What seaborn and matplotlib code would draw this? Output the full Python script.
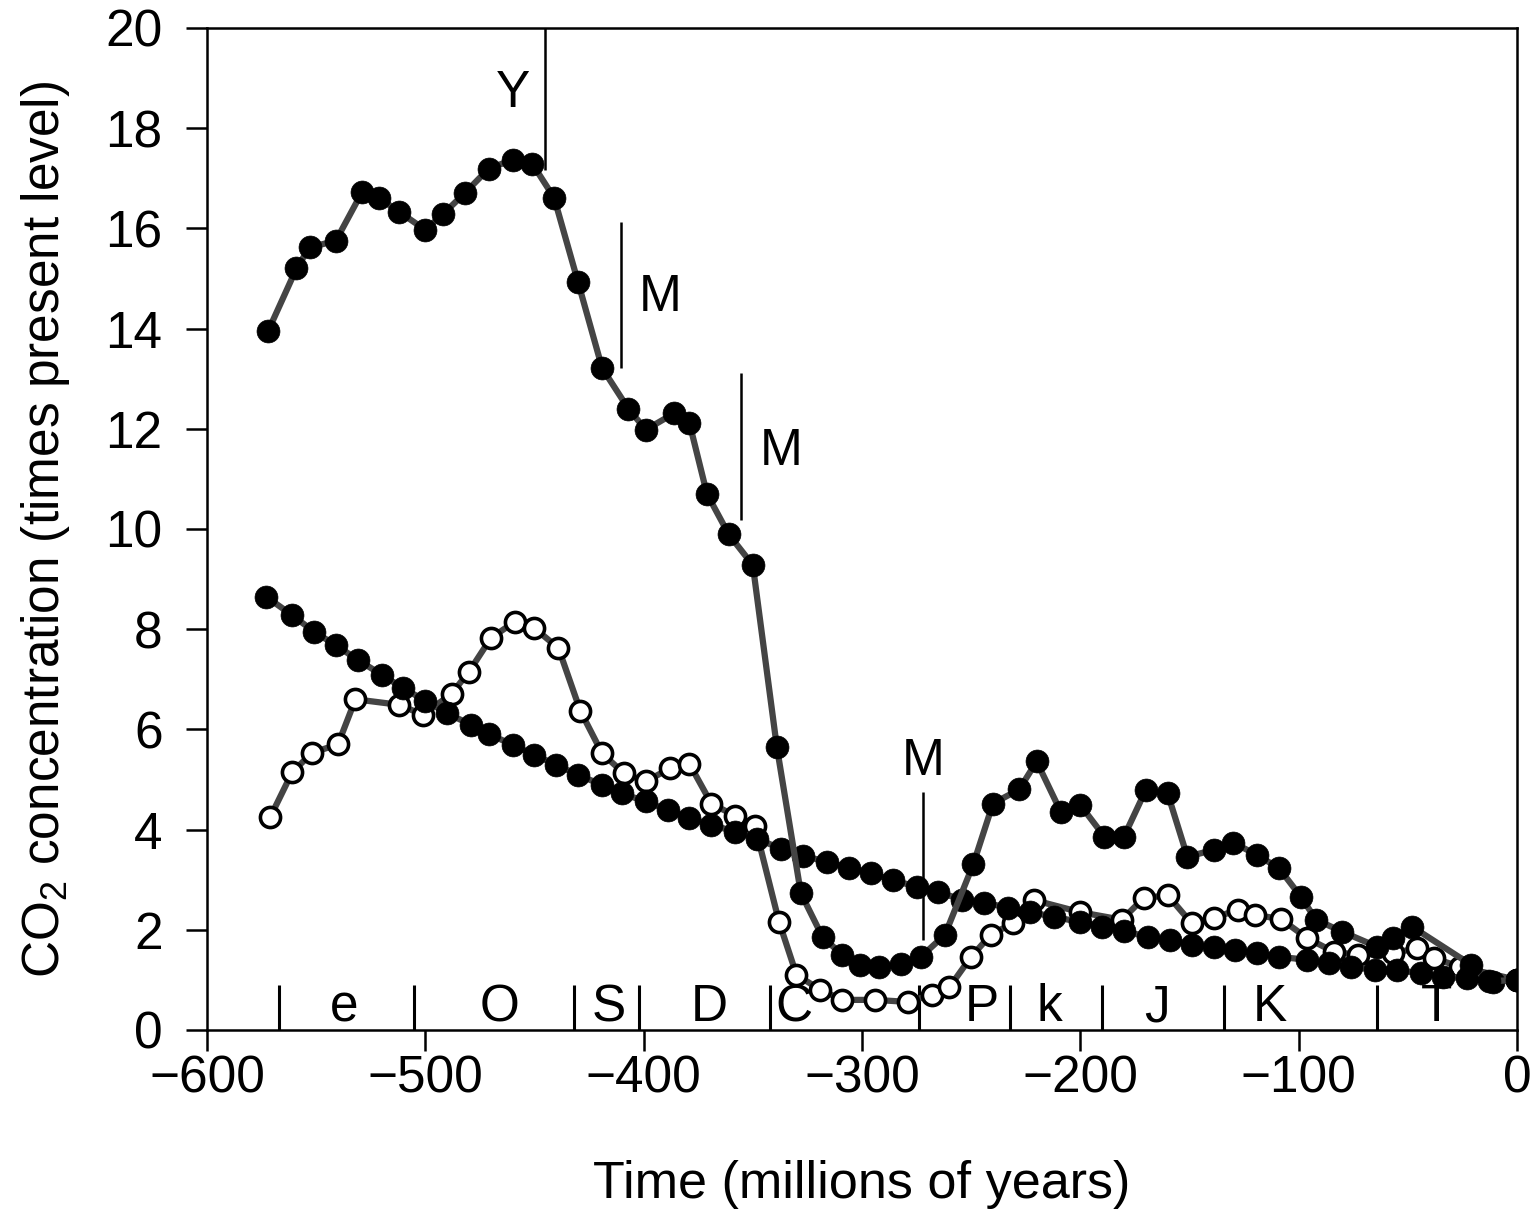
import numpy as np
import pandas as pd
import seaborn as sns
import matplotlib.pyplot as plt

# upper curve (filled circles)
upper_time = [-572, -559, -553, -541, -529, -521, -512, -500, -492, -482, -471, -460, -451, -441,
              -430, -419, -407, -399, -386, -379, -371, -361, -350, -339, -328, -318, -309, -301,
              -292, -282, -273, -262, -249, -240, -228, -220, -209, -200, -189, -180, -170, -160,
              -151, -139, -130, -119, -109, -99, -92, -80, -64, -57, -48, -21, -13, 0]
upper_co2 = [13.95, 15.20, 15.62, 15.75, 16.72, 16.60, 16.33, 15.97, 16.28, 16.70, 17.19, 17.37, 17.29, 16.61,
             14.92, 13.21, 12.40, 11.98, 12.31, 12.11, 10.70, 9.89, 9.28, 5.65, 2.73, 1.85, 1.50, 1.30,
             1.26, 1.32, 1.46, 1.90, 3.31, 4.52, 4.80, 5.36, 4.36, 4.49, 3.86, 3.86, 4.79, 4.72,
             3.46, 3.59, 3.74, 3.49, 3.23, 2.66, 2.20, 1.96, 1.66, 1.83, 2.06, 1.30, 0.97, 1.0]

# smooth declining curve (filled circles)
mid_time = [-573, -561, -551, -541, -531, -520, -510, -500, -490, -479, -471, -460, -450, -440,
            -430, -419, -410, -399, -389, -379, -369, -358, -348, -337, -327, -316, -306, -296,
            -286, -275, -265, -254, -244, -233, -223, -212, -200, -190, -180, -169, -159, -149,
            -139, -129, -119, -109, -96, -86, -76, -65, -55, -44, -34, -23, -11, 0]
mid_co2 = [8.65, 8.28, 7.95, 7.68, 7.39, 7.09, 6.82, 6.57, 6.32, 6.09, 5.91, 5.69, 5.49, 5.29,
           5.09, 4.89, 4.72, 4.56, 4.39, 4.23, 4.09, 3.96, 3.82, 3.61, 3.48, 3.35, 3.24, 3.13,
           2.99, 2.86, 2.75, 2.60, 2.54, 2.44, 2.36, 2.25, 2.16, 2.06, 1.97, 1.86, 1.80, 1.70,
           1.66, 1.60, 1.53, 1.46, 1.40, 1.33, 1.26, 1.20, 1.20, 1.13, 1.06, 1.03, 0.96, 1.0]

# open circles
open_time = [-571, -561, -552, -540, -532, -512, -501, -488, -480, -470, -459, -450, -439, -429,
             -419, -409, -399, -388, -379, -369, -358, -349, -338, -330, -319, -309, -294, -279,
             -268, -260, -250, -241, -231, -221, -200, -181, -171, -160, -149, -139, -128, -120,
             -108, -96, -84, -73, -57, -46, -38, -26, 0]
open_co2 = [4.25, 5.14, 5.53, 5.70, 6.60, 6.49, 6.29, 6.71, 7.15, 7.82, 8.15, 8.02, 7.62, 6.37,
            5.52, 5.12, 4.96, 5.22, 5.31, 4.52, 4.27, 4.07, 2.16, 1.10, 0.80, 0.60, 0.60, 0.56,
            0.70, 0.85, 1.46, 1.90, 2.13, 2.59, 2.35, 2.20, 2.63, 2.69, 2.13, 2.23, 2.40, 2.30,
            2.21, 1.83, 1.56, 1.50, 1.53, 1.63, 1.43, 1.26, 1.0]

# geologic periods along the bottom
period_bounds = [-567, -505, -432, -402, -342, -274, -232, -190, -134, -64]
period_labels = ['e', 'O', 'S', 'D', 'C', 'P', 'k', 'J', 'K', 'T']
period_label_x = [-537, -466, -416, -370, -331, -245, -214, -165, -113, -37]

# event markers (Y, M, M, M)
event_labels = ['Y', 'M', 'M', 'M']
event_x = [-445.4, -410.4, -355.4, -272.1]
event_y0 = [17.17, 13.21, 10.18, 1.80]
event_y1 = [20.0, 16.13, 13.11, 4.75]
event_text_x = [-459.7, -392.5, -337.0, -272.0]
event_text_y = [18.42, 14.35, 11.28, 5.09]

sns.set_theme(style='ticks')
plt.rcParams['font.family'] = ['Liberation Sans', 'DejaVu Sans']
plt.rcParams['mathtext.fontset'] = 'custom'
plt.rcParams['mathtext.rm'] = 'Liberation Sans'

fig = plt.figure(figsize=(15.32, 12.15), dpi=100)
ax = fig.add_axes([0.1351, 0.1523, 0.8551, 0.8247])

line_col = '#444444'
common = dict(color=line_col, linewidth=4.5, estimator=None, sort=False, ax=ax, legend=False)

sns.lineplot(data=pd.DataFrame({'t': open_time, 'c': open_co2}), x='t', y='c',
             marker='o', markersize=14.5, markerfacecolor='white', markeredgecolor='black',
             markeredgewidth=2.6, zorder=3, **common)
sns.lineplot(data=pd.DataFrame({'t': mid_time, 'c': mid_co2}), x='t', y='c',
             marker='o', markersize=16.5, markerfacecolor='black', markeredgecolor='black',
             markeredgewidth=0.5, zorder=4, **common)
sns.lineplot(data=pd.DataFrame({'t': upper_time, 'c': upper_co2}), x='t', y='c',
             marker='o', markersize=16.5, markerfacecolor='black', markeredgecolor='black',
             markeredgewidth=0.5, zorder=5, **common)

fs = 37
ax.vlines(period_bounds, 0, 0.9, colors='black', linewidth=2.2, zorder=2)
for lab, x in zip(period_labels, period_label_x):
    ax.text(x, 0.17, lab, ha='center', va='baseline', fontsize=fs, color='black', zorder=6)

ax.vlines(event_x, event_y0, event_y1, colors='black', linewidth=1.8, zorder=2)
for lab, x, y in zip(event_labels, event_text_x, event_text_y):
    ax.text(x, y, lab, ha='center', va='baseline', fontsize=fs, color='black', zorder=6)

ax.set_xlim(-600, 0)
ax.set_ylim(0, 20)
ax.set_xticks(np.arange(-600, 1, 100))
ax.set_yticks(np.arange(0, 21, 2))
ax.tick_params(axis='both', direction='out', length=15, width=1.8, color='black',
               labelsize=fs, labelcolor='black')
ax.tick_params(axis='x', pad=3)
ax.tick_params(axis='y', pad=17)
for sp in ax.spines.values():
    sp.set_visible(True)
    sp.set_linewidth(1.8)
    sp.set_color('black')

ax.set_xlabel('Time (millions of years)', fontsize=37.5, color='black', labelpad=40)
ax.set_ylabel(r'CO$_{\mathrm{2}}$ concentration (times present level)', fontsize=37,
              color='black', labelpad=24)

fig.savefig('out.png', dpi=100, facecolor='white')
